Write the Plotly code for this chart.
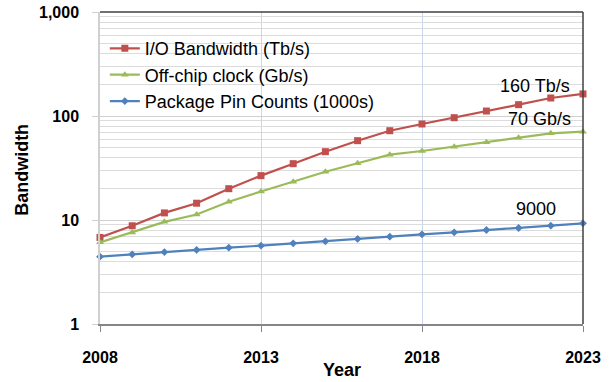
import numpy as np
import plotly.graph_objects as go

years = list(range(2008, 2024))
io_bandwidth = [6.8, 8.8, 11.7, 14.5, 20.0, 26.7, 34.8, 45.4, 57.9, 72.2, 83.8, 96.3, 111.6, 128.5, 149.0, 163.0]
offchip_clock = [6.1, 7.6, 9.6, 11.3, 15.0, 18.8, 23.3, 29.1, 35.1, 42.5, 46.1, 50.7, 55.9, 61.9, 68.2, 70.7]
pin_counts = [4.44, 4.68, 4.92, 5.15, 5.42, 5.66, 5.97, 6.24, 6.57, 6.92, 7.28, 7.61, 8.01, 8.38, 8.81, 9.29]

series_names = ["I/O Bandwidth (Tb/s)", "Off-chip clock (Gb/s)", "Package Pin Counts (1000s)"]
end_labels = ["160 Tb/s", "70 Gb/s", "9000"]
x_ticks = [2008, 2013, 2018, 2023]
y_tickvals = [1, 10, 100, 1000]
y_ticktext = ["1", "10", "100", "1,000"]
x_title = "Year"
y_title = "Bandwidth"

FONT = "Liberation Sans, Arial, sans-serif"
colors = ["#C0504D", "#9BBB59", "#4F81BD"]
symbols = ["square", "triangle-up", "diamond"]
msizes = [7, 7, 6]

fig = go.Figure()
for name, vals, c, s, ms in zip(series_names, [io_bandwidth, offchip_clock, pin_counts], colors, symbols, msizes):
    fig.add_trace(go.Scatter(
        x=years, y=vals, name=name, mode="lines+markers",
        line=dict(color=c, width=2.2),
        marker=dict(symbol=s, size=ms, color=c),
        cliponaxis=False,
    ))

label_shifts = [(-11, 8), (-10, 13), (-25, 14)]
for lab, vals, (xs, ys) in zip(end_labels, [io_bandwidth, offchip_clock, pin_counts], label_shifts):
    fig.add_annotation(
        x=years[-1], y=np.log10(vals[-1]), xref="x", yref="y",
        text=lab, showarrow=False, xanchor="right", yanchor="middle",
        xshift=xs, yshift=ys,
        font=dict(family=FONT, size=18, color="#000000"),
    )

# axis titles
fig.add_annotation(x=0.5, y=-0.147, xref="paper", yref="paper", text="<b>%s</b>" % x_title,
                   showarrow=False, xanchor="center", yanchor="middle",
                   font=dict(family=FONT, size=18, color="#000000"))
fig.add_annotation(x=-0.1615, y=0.494, xref="paper", yref="paper", text="<b>%s</b>" % y_title,
                   showarrow=False, xanchor="center", yanchor="middle", textangle=-90,
                   font=dict(family=FONT, size=18, color="#000000"))

# top / right frame
fig.add_shape(type="line", xref="paper", yref="paper", x0=0, x1=1, y0=1, y1=1,
              line=dict(color="#404040", width=1.5), layer="above")
fig.add_shape(type="line", xref="paper", yref="paper", x0=1, x1=1, y0=0, y1=1,
              line=dict(color="#404040", width=1.5), layer="above")

fig.update_layout(
    width=613, height=382,
    margin=dict(l=100, r=30, t=12, b=58),
    paper_bgcolor="white", plot_bgcolor="white",
    font=dict(family=FONT, color="#000000"),
    showlegend=True,
    legend=dict(
        x=0.01, y=0.942, xanchor="left", yanchor="top",
        bgcolor="rgba(0,0,0,0)", font=dict(family=FONT, size=18, color="#000000"),
        itemwidth=30, tracegroupgap=0,
    ),
    xaxis=dict(
        range=[2008, 2023], tickvals=x_ticks, ticktext=[str(v) for v in x_ticks],
        automargin=False,
        showgrid=True, gridcolor="#C9D7EE", gridwidth=1,
        showline=True, linecolor="#868686", linewidth=2,
        ticks="outside", ticklen=6, tickcolor="#868686", tickwidth=1,
        ticklabelstandoff=12,
        tickfont=dict(family=FONT, size=16, color="#000000", weight="bold"),
        zeroline=False,
    ),
    yaxis=dict(
        type="log", range=[0, 3],
        tickvals=y_tickvals, ticktext=y_ticktext,
        automargin=False,
        showgrid=True, gridcolor="#D0D0D0", gridwidth=1,
        minor=dict(showgrid=True, gridcolor="#DCDCDC", gridwidth=1, dtick="D1", ticks=""),
        showline=True, linecolor="#D0D0D0", linewidth=1.5,
        ticks="outside", ticklen=6, tickcolor="#D0D0D0",
        ticklabelstandoff=10,
        tickfont=dict(family=FONT, size=16, color="#000000", weight="bold"),
        zeroline=False,
    ),
)

fig.write_html("out.html", config={"displayModeBar": False},
               post_script="document.body.style.margin='0px';")
